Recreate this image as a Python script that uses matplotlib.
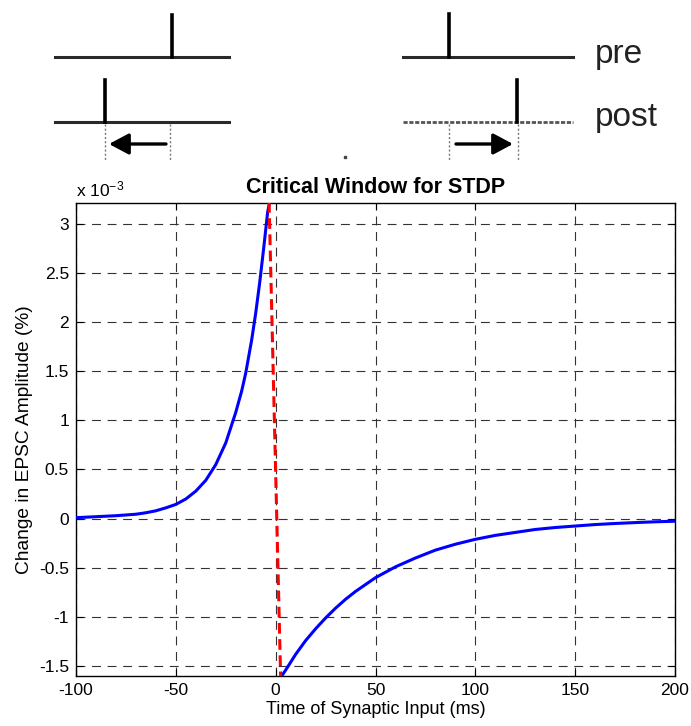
import matplotlib
matplotlib.use('Agg')
import matplotlib.pyplot as plt

plt.rcParams['font.family'] = ['Liberation Sans', 'DejaVu Sans']
plt.rcParams['mathtext.default'] = 'regular'

# values (amplitude in units of 1e-3 %)
ltp_t = [-100, -90, -80, -70, -65, -60, -55, -50, -45, -40, -35, -30, -25,
         -20, -17, -15, -12, -10, -8, -6, -4, -3]
ltp_v = [0.01, 0.02, 0.03, 0.045, 0.06, 0.08, 0.11, 0.145, 0.20, 0.28, 0.39,
         0.55, 0.77, 1.08, 1.30, 1.48, 1.82, 2.09, 2.40, 2.75, 3.12, 3.22]
ltd_t = [3, 5, 10, 15, 20, 25, 30, 35, 40, 45, 50, 60, 70, 80, 90, 100, 110,
         120, 130, 140, 150, 160, 170, 180, 190, 200]
ltd_v = [-1.60, -1.54, -1.38, -1.24, -1.12, -1.01, -0.91, -0.82, -0.74, -0.67,
         -0.60, -0.49, -0.40, -0.32, -0.26, -0.21, -0.17, -0.14, -0.11, -0.09,
         -0.075, -0.06, -0.049, -0.04, -0.032, -0.026]
jump_t = [-3.3, 2.5]
jump_v = [3.22, -1.62]

xticks = [-100, -50, 0, 50, 100, 150, 200]
yticks = [-1.5, -1, -0.5, 0, 0.5, 1, 1.5, 2, 2.5, 3]
ytick_labels = ['-1.5', '-1', '-0.5', '0', '0.5', '1', '1.5', '2', '2.5', '3']

W, H = 691, 726
fig = plt.figure(figsize=(W / 100, H / 100), dpi=100)

# schematic at the top, drawn in pixel coordinates
sk = fig.add_axes([0, 0, 1, 1])
sk.set_xlim(0, W)
sk.set_ylim(H, 0)
sk.axis('off')

base_col = '#2a2a2a'
arrow_style = '-|>,head_length=0.6,head_width=0.32'
# left pair: post fires before pre
sk.plot([55, 229], [57, 57], color=base_col, lw=2.2)
sk.plot([172, 172], [57, 15], color='black', lw=2.6)
sk.plot([55, 229], [122, 122], color=base_col, lw=2.2)
sk.plot([105, 105], [122, 80], color='black', lw=2.6)
sk.plot([105, 105], [124, 160], color='#777777', lw=1, ls=(0, (1.5, 1.5)))
sk.plot([170, 170], [124, 160], color='#777777', lw=1, ls=(0, (1.5, 1.5)))
sk.annotate('', xy=(109, 144), xytext=(166, 144),
            arrowprops=dict(arrowstyle=arrow_style, mutation_scale=20,
                            lw=2.4, color='black', shrinkA=0, shrinkB=0))
# right pair: pre fires before post
sk.plot([403, 573], [57, 57], color=base_col, lw=2.2)
sk.plot([449, 449], [57, 14], color='black', lw=2.6)
sk.plot([403, 573], [122, 122], color='#555555', lw=2, ls=(0, (1.5, 0.6)))
sk.plot([517, 517], [122, 80], color='black', lw=2.6)
sk.plot([449, 449], [124, 160], color='#777777', lw=1, ls=(0, (1.5, 1.5)))
sk.plot([518, 518], [124, 160], color='#777777', lw=1, ls=(0, (1.5, 1.5)))
sk.annotate('', xy=(513, 144), xytext=(456, 144),
            arrowprops=dict(arrowstyle=arrow_style, mutation_scale=20,
                            lw=2.4, color='black', shrinkA=0, shrinkB=0))
sk.plot([345], [157], marker='s', ms=1.5, color='#444444')
sk.text(595, 63, 'pre', fontsize=24, color='#222222', va='baseline')
sk.text(595, 126, 'post', fontsize=24, color='#222222', va='baseline')

# the STDP plot
ax = fig.add_axes([76 / W, (H - 676) / H, 599 / W, 473 / H])
ax.plot(ltp_t, ltp_v, color=(0, 0, 1), lw=2.2, zorder=3)
ax.plot(ltd_t, ltd_v, color=(0, 0, 1), lw=2.2, zorder=3)
ax.plot(jump_t, jump_v, color=(1, 0, 0), lw=2.2, ls=(0, (3.5, 1.8)), zorder=4)

ax.set_xlim(-100, 200)
ax.set_ylim(-1.6, 3.21)
ax.set_xticks(xticks)
ax.set_xticklabels([str(t) for t in xticks])
ax.set_yticks(yticks)
ax.set_yticklabels(ytick_labels)
ax.grid(True, color='#333333', lw=0.8, ls=(0, (8, 6)))
ax.tick_params(direction='in', length=5, width=0.8, top=True, right=True,
               labelsize=12.5, pad=5)
for s in ax.spines.values():
    s.set_linewidth(1)

ax.set_title('Critical Window for STDP', fontsize=15.5, fontweight='bold', pad=7)
ax.set_xlabel('Time of Synaptic Input (ms)', fontsize=13, labelpad=2)
ax.set_ylabel('Change in EPSC Amplitude (%)', fontsize=13.8, labelpad=4)
ax.text(0.0, 1.015, 'x 10$^{-3}$', transform=ax.transAxes, fontsize=12.5,
        ha='left', va='baseline')

fig.savefig('out.png', dpi=100)
